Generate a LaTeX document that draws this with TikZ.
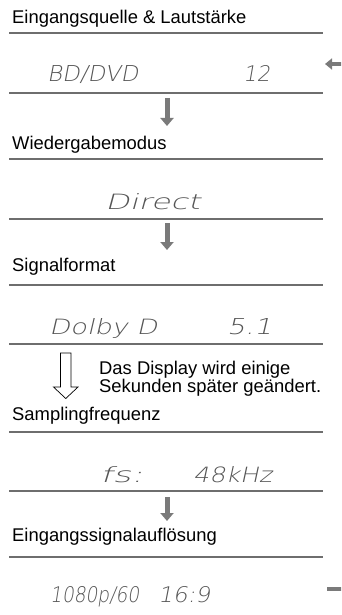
\documentclass[tikz,border=0pt]{standalone}
\usepackage{fontspec}
\setmainfont{Liberation Sans}
\newfontfamily\lcdfont[FakeSlant=0.18]{DejaVu Sans ExtraLight}
\usetikzlibrary{arrows.meta}
\definecolor{rulegray}{HTML}{6E6E6E}
\definecolor{arrowgray}{HTML}{7A7A7A}
\definecolor{lcdgray}{HTML}{555555}
\newcommand{\lcdtxt}[2]{\resizebox{#1pt}{16pt}{\lcdfont #2}}
\begin{document}
\begin{tikzpicture}[x=1pt,y=-1pt,
  heading/.style={anchor=base west, inner sep=0pt, font=\fontsize{18.4}{20}\selectfont},
  note/.style={anchor=base west, inner sep=0pt, align=left, font=\fontsize{18.4}{18}\selectfont},
  lcd/.style={anchor=base west, inner sep=0pt, text=lcdgray},
  rulel/.style={draw=rulegray, line width=1.3pt},
  flowarrow/.style={draw=arrowgray, line width=5pt, -{Triangle[width=13pt,length=8pt]}},
  looparrow/.style={draw=arrowgray, line width=4.5pt, -{Triangle[width=11pt,length=7pt]}},
  hollow/.style={draw=black, line width=0.7pt, fill=white}
]
\useasboundingbox (0,0) rectangle (341,615);
\clip (0,0) rectangle (341,615);

% headings
\node[heading] (h1) at (12,24) {Eingangsquelle \& Lautstärke};
\node[heading] (h2) at (12,149) {Wiedergabemodus};
\node[heading] (h3) at (12,271) {Signalformat};
\node[heading] (h4) at (12,420) {Samplingfrequenz};
\node[heading] (h5) at (12,541) {Eingangssignalauflösung};

% rules
\foreach \y in {33,93,159,219,285,344,432,491,557}
  \draw[rulel] (9,\y) -- (323,\y);

% LCD displays
\node[lcd] (l1a) at (47,82) {\lcdtxt{91}{BD/DVD}};
\node[lcd] (l1b) at (243,82) {\lcdtxt{27}{12}};
\node[lcd] (l2) at (105,209) {\lcdtxt{95}{Direct}};
\node[lcd] (l3a) at (49,334) {\lcdtxt{108}{Dolby D}};
\node[lcd] (l3b) at (227,334) {\lcdtxt{45}{5.1}};
\node[lcd] (l4a) at (100,482) {\lcdtxt{43}{fs:}};
\node[lcd] (l4b) at (193,482) {\lcdtxt{79}{48kHz}};
\node[lcd] (l5a) at (50,602) {\lcdtxt{89}{1080p/60}};
\node[lcd] (l5b) at (158,602) {\lcdtxt{52}{16:9}};

% note
\node[note] (n1) at (99,392) {Das Display wird einige\\Sekunden später geändert.};

% flow arrows
\coordinate (a1s) at (167,98);  \coordinate (a1e) at (167,126);
\coordinate (a2s) at (167,223); \coordinate (a2e) at (167,250);
\coordinate (a3s) at (167,497); \coordinate (a3e) at (167,521);
\draw[flowarrow] (a1s) -- (a1e);
\draw[flowarrow] (a2s) -- (a2e);
\draw[flowarrow] (a3s) -- (a3e);

% hollow arrow
\draw[hollow] (60.5,353) -- (71,353) -- (71,387) -- (78,387) -- (65.75,398.5)
  -- (53.5,387) -- (60.5,387) -- cycle;

% loop back arrow (partly outside)
\coordinate (lps) at (327,589);
\coordinate (lpe) at (325,64);
\draw[looparrow] (lps) -- ++(30,0) |- (lpe);
\end{tikzpicture}
\end{document}
